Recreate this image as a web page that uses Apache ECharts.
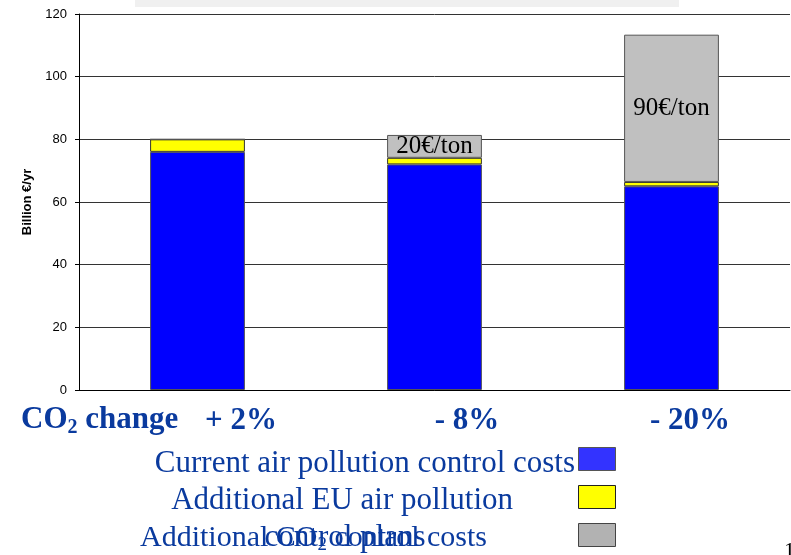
<!DOCTYPE html>
<html>
<head>
<meta charset="utf-8">
<script src="https://cdn.jsdelivr.net/npm/echarts@6/dist/echarts.min.js"></script>
<style>
  html, body { margin: 0; padding: 0; background: #fff; }
  #chart { width: 791px; height: 555px; }
</style>
</head>
<body>
<div id="chart"></div>
<script>
// scenarios (CO2 change)
const categories = ['+ 2%', '- 8%', '- 20%'];
const currentCosts = [76, 72, 65];
const additionalEU = [4, 2.1, 1.4];
const co2Costs = [0, 7.3, 47];
const co2Labels = ['', '20€/ton', '90€/ton'];
const yTicks = [0, 20, 40, 60, 80, 100, 120];
const legendNames = ['Current air pollution control costs', 'Additional EU air pollution', 'Additional CO2 control costs'];

const blueText = '#0a3a9e';
const serif = '"Liberation Serif", "Times New Roman", serif';

const chart = echarts.init(document.getElementById('chart'));

const options = {
  animation: false,
  grid: { left: 79, right: 1, top: 14, bottom: 165 },
  xAxis: {
    type: 'category',
    data: categories,
    axisLine: { lineStyle: { color: '#000', width: 1 } },
    axisTick: { show: false },
    axisLabel: { show: false }
  },
  yAxis: {
    type: 'value',
    min: yTicks[0],
    max: yTicks[yTicks.length - 1],
    interval: 20,
    name: 'Billion €/yr',
    nameLocation: 'middle',
    nameGap: 45,
    nameTextStyle: { fontFamily: 'Liberation Sans, Arial', fontWeight: 'bold', fontSize: 13, color: '#000' },
    axisLine: { show: true, lineStyle: { color: '#000' } },
    axisTick: { show: true, length: 4, lineStyle: { color: '#000' } },
    axisLabel: { fontFamily: 'Liberation Sans, Arial', fontSize: 13, color: '#000', margin: 12 },
    splitLine: { lineStyle: { color: '#333', width: 1 } }
  },
  legend: {
    orient: 'vertical',
    left: 578,
    top: 447,
    padding: 0,
    icon: 'rect',
    itemWidth: 37,
    itemHeight: 23,
    itemGap: 14,
    formatter: () => '',
    selectedMode: false,
    data: [
      { name: legendNames[0], itemStyle: { color: '#3333ff', borderColor: '#555', borderWidth: 1 } },
      { name: legendNames[1], itemStyle: { color: '#ffff00', borderColor: '#222', borderWidth: 1 } },
      { name: legendNames[2], itemStyle: { color: '#b2b2b2', borderColor: '#444', borderWidth: 1 } }
    ]
  },
  series: [
    {
      name: legendNames[0],
      type: 'bar',
      stack: 'total',
      barWidth: '40%',
      data: currentCosts,
      itemStyle: { color: '#0000ff', borderColor: '#555', borderWidth: 1 }
    },
    {
      name: legendNames[1],
      type: 'bar',
      stack: 'total',
      data: additionalEU,
      itemStyle: { color: '#ffff00', borderColor: '#333', borderWidth: 1 }
    },
    {
      name: legendNames[2],
      type: 'bar',
      stack: 'total',
      data: co2Costs,
      itemStyle: { color: '#c0c0c0', borderColor: '#555', borderWidth: 1 },
      label: {
        show: true,
        position: 'inside',
        formatter: (p) => co2Labels[p.dataIndex],
        fontFamily: serif,
        fontSize: 25,
        color: '#000'
      }
    }
  ],
  graphic: [
    // clipped slide title strip
    { type: 'rect', left: 135, top: 0, shape: { width: 544, height: 7 }, style: { fill: '#f0f0f0' }, z: 0 },
    {
      type: 'text', left: 21, top: 404,
      style: {
        text: '{a|CO}{s|2}{a| change}',
        rich: {
          a: { fontFamily: serif, fontWeight: 'bold', fontSize: 31, fill: blueText },
          s: { fontFamily: serif, fontWeight: 'bold', fontSize: 20, fill: blueText, padding: [16, 0, 0, 0] }
        }
      }
    },
    { type: 'text', x: 241, y: 421, style: { text: categories[0], font: 'bold 31px ' + serif, fill: blueText, align: 'center', verticalAlign: 'middle' } },
    { type: 'text', x: 467, y: 421, style: { text: categories[1], font: 'bold 31px ' + serif, fill: blueText, align: 'center', verticalAlign: 'middle' } },
    { type: 'text', x: 690, y: 421, style: { text: categories[2], font: 'bold 31px ' + serif, fill: blueText, align: 'center', verticalAlign: 'middle' } },
    // legend text box
    { type: 'text', x: 575, y: 464, style: { text: 'Current air pollution control costs', font: '31px ' + serif, fill: blueText, align: 'right', verticalAlign: 'middle' } },
    { type: 'text', x: 513, y: 501, style: { text: 'Additional EU air pollution', font: '31px ' + serif, fill: blueText, align: 'right', verticalAlign: 'middle' } },
    {
      type: 'text', x: 140, y: 538,
      style: {
        text: '{a|Additional CO}{s|2}{a| control costs}',
        verticalAlign: 'middle',
        rich: {
          a: { fontFamily: serif, fontSize: 30, fill: blueText },
          s: { fontFamily: serif, fontSize: 19, fill: blueText, padding: [14, 0, 0, 0] }
        }
      }
    },
    { type: 'text', x: 345, y: 538, style: { text: 'control plans', font: '31px ' + serif, fill: blueText, align: 'center', verticalAlign: 'middle' } },
    { type: 'text', x: 784, y: 540, style: { text: '1', font: '22px ' + serif, fill: '#000' } }
  ]
};

chart.setOption(options);
window.onresize = () => {
  chart.resize();
};
</script>
</body>
</html>
